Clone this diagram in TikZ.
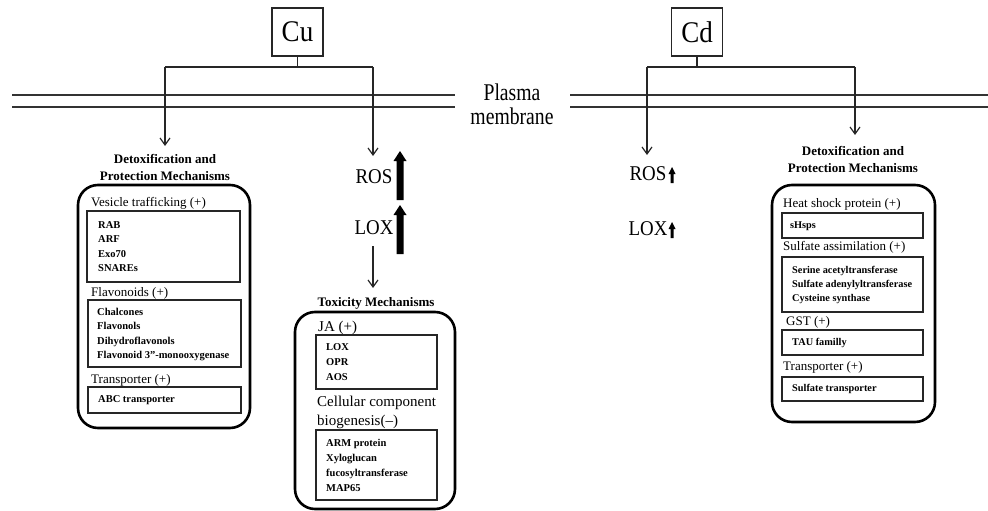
\documentclass[tikz,border=0pt]{standalone}
\usepackage{graphicx}
\usepackage{fontspec}
\setmainfont{Liberation Serif}
\usetikzlibrary{arrows.meta}
\newcommand{\condtxt}[2][0.9]{\scalebox{#1}[1]{#2}}
\tikzset{
  metalbox/.style={draw=black!85, line width=1.3pt, minimum width=51pt, minimum height=48pt, inner sep=0pt, font=\fontsize{30}{30}\selectfont},
  ln/.style={draw=black!85, line width=1.2pt},
  arr/.style={ln, -{Straight Barb[length=7pt,width=10pt,line width=1.2pt]}},
  mem/.style={draw=black!80, line width=1.8pt},
  bigbox/.style={draw=black, line width=2.6pt, rounded corners=20pt},
  subbox/.style={draw=black!85, line width=1.5pt},
  hdr/.style={font=\fontsize{13}{17}\selectfont\bfseries, align=center, inner sep=0pt},
  cat/.style={font=\fontsize{13}{15}\selectfont, anchor=west, inner sep=0pt},
  catbig/.style={font=\fontsize{15}{19}\selectfont, anchor=west, align=left, inner sep=0pt},
  itm/.style={font=\fontsize{10.5}{14.6}\selectfont\bfseries, anchor=west, align=left, inner sep=0pt},
  itmr/.style={font=\fontsize{10.3}{14}\selectfont\bfseries, anchor=west, align=left, inner sep=0pt},
  itmbig/.style={font=\fontsize{10.5}{15}\selectfont\bfseries, anchor=west, align=left, inner sep=0pt},
  mem text/.style={font=\fontsize{24}{24}\selectfont, anchor=base, inner sep=0pt},
  roslox/.style={font=\fontsize{21}{21}\selectfont, inner sep=0pt},
}
\begin{document}
\begin{tikzpicture}[x=1pt,y=-1pt]
\useasboundingbox (0,0) rectangle (988,511);

% metal boxes
\node[metalbox] (cu) at (297.5,32) {\condtxt{Cu}};
\node[metalbox] (cd) at (697,32) {\condtxt{Cd}};

% membrane
\node[mem text] (plasma) at (512,100) {\condtxt[0.82]{Plasma}};
\node[mem text] (membrane) at (512,124) {\condtxt[0.82]{membrane}};
\coordinate (m1a) at (12,95);  \coordinate (m1b) at (455,95);
\coordinate (m2a) at (12,107); \coordinate (m2b) at (455,107);
\coordinate (m3a) at (570,95); \coordinate (m3b) at (988,95);
\coordinate (m4a) at (570,107);\coordinate (m4b) at (988,107);
\draw[mem] (m1a) -- (m1b);
\draw[mem] (m2a) -- (m2b);
\draw[mem] (m3a) -- (m3b);
\draw[mem] (m4a) -- (m4b);

% Cu brackets
\coordinate (cuL) at (165,67);
\coordinate (cuR) at (373,67);
\coordinate (cuLend) at (165,146);
\coordinate (cuRend) at (373,156);
\draw[ln] (cu.south) -- (cu.south |- cuL);
\draw[ln] (cuL) -- (cuR);
\draw[arr] (cuL) -- (cuLend);
\draw[arr] (cuR) -- (cuRend);

% Cd brackets
\coordinate (cdL) at (647,67);
\coordinate (cdR) at (855,67);
\coordinate (cdLend) at (647,155);
\coordinate (cdRend) at (855,135);
\draw[ln] (cd.south) -- (cd.south |- cdL);
\draw[ln] (cdL) -- (cdR);
\draw[arr] (cdL) -- (cdLend);
\draw[arr] (cdR) -- (cdRend);

% ---------- left (Cu detox) ----------
\node[hdr] (lhdr) at (165,167.5) {Detoxification and\\Protection Mechanisms};
\draw[bigbox] (78,185) rectangle (250,428);
\node[cat] (vt) at (91,203) {Vesicle trafficking (+)};
\draw[subbox] (87,211) rectangle (240,282);
\node[itm] (vtl) at (98,246.5) {RAB\\ARF\\Exo70\\SNAREs};
\node[cat] (fl) at (91,293) {Flavonoids (+)};
\draw[subbox] (88,300) rectangle (241,367);
\node[itm] (fll) at (97,334.5) {Chalcones\\Flavonols\\Dihydroflavonols\\Flavonoid 3"-monooxygenase};
\node[cat] (tr) at (91,380) {Transporter (+)};
\draw[subbox] (88,387) rectangle (241,413);
\node[itm] (trl) at (98,400) {ABC transporter};

% ---------- middle (Cu ROS/LOX) ----------
\node[roslox] (ros1) at (374,177) {\condtxt{ROS}};
\node[roslox] (lox1) at (374,228) {\condtxt{LOX}};
\fill[black] (396.5,200) -- (396.5,161) -- (393.5,161) -- (400,151) -- (406.5,161) -- (403.5,161) -- (403.5,200) -- cycle;
\fill[black] (396.5,254) -- (396.5,215) -- (393.5,215) -- (400,205) -- (406.5,215) -- (403.5,215) -- (403.5,254) -- cycle;
\node[hdr] (thdr) at (376,303) {Toxicity Mechanisms};
\coordinate (loxtop) at (373,246);
\coordinate (loxend) at (373,288);
\draw[arr] (loxtop) -- (loxend);
\draw[bigbox] (295,312) rectangle (455,509);
\node[catbig] (ja) at (318,328) {JA (+)};
\draw[subbox] (316,335) rectangle (437,389);
\node[itmbig] (jal) at (326,362) {LOX\\OPR\\AOS};
\node[catbig] (ccb) at (317,412.5) {Cellular component\\biogenesis(–)};
\draw[subbox] (316,430) rectangle (437,500);
\node[itmbig] (ccbl) at (326,465.5) {ARM protein\\Xyloglucan\\fucosyltransferase\\MAP65};

% ---------- right-middle (Cd ROS/LOX) ----------
\node[roslox] (ros2) at (648,174) {\condtxt{ROS}};
\node[roslox] (lox2) at (648,229) {\condtxt{LOX}};
\fill[black] (670.5,183) -- (670.5,174) -- (668.5,174) -- (672,167) -- (675.5,174) -- (673.5,174) -- (673.5,183) -- cycle;
\fill[black] (670.5,238) -- (670.5,229) -- (668.5,229) -- (672,222) -- (675.5,229) -- (673.5,229) -- (673.5,238) -- cycle;

% ---------- right (Cd detox) ----------
\node[hdr] (rhdr) at (853,159) {Detoxification and\\Protection Mechanisms};
\draw[bigbox] (772,185) rectangle (935,422);
\node[cat] (hs) at (783,204) {Heat shock protein (+)};
\draw[subbox] (782,213) rectangle (923,238);
\node[itmr] (hsl) at (790,226) {sHsps};
\node[cat] (sa) at (783,247) {Sulfate assimilation (+)};
\draw[subbox] (782,257) rectangle (923,312);
\node[itmr] (sal) at (792,285) {Serine acetyltransferase\\Sulfate adenylyltransferase\\Cysteine synthase};
\node[cat] (gst) at (786,322) {GST (+)};
\draw[subbox] (782,330) rectangle (923,355);
\node[itmr] (gstl) at (792,343) {TAU familly};
\node[cat] (tr2) at (783,367) {Transporter (+)};
\draw[subbox] (782,377) rectangle (923,401);
\node[itmr] (tr2l) at (792,389) {Sulfate transporter};
\end{tikzpicture}
\end{document}
